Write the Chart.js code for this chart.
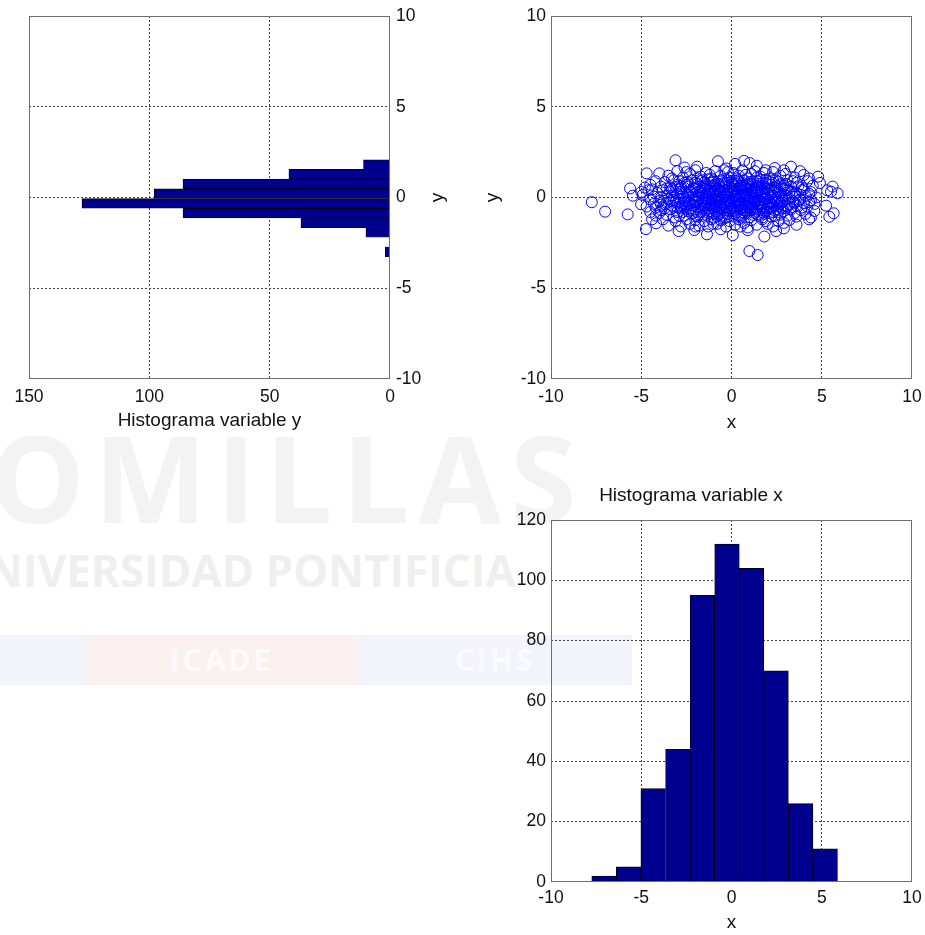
<!DOCTYPE html>
<html><head><meta charset="utf-8">
<script src="https://cdn.jsdelivr.net/npm/chart.js@4.4.1/dist/chart.umd.min.js"></script>
<style>
html,body{margin:0;padding:0;background:#fff;width:925px;height:935px;overflow:hidden;position:relative;}
canvas{position:absolute;}
#wm{position:absolute;left:0;top:0;width:925px;height:935px;overflow:hidden;}
#wm div{position:absolute;white-space:nowrap;font-family:'Open Sans',sans-serif;font-weight:bold;}
</style></head><body>
<div id="wm">
  <div style="left:-96px;top:395px;font-size:120px;letter-spacing:9px;color:#f3f3f3;">COMILLAS</div>
  <div style="left:-46px;top:540px;font-size:44px;letter-spacing:0px;color:#efefef;">UNIVERSIDAD PONTIFICIA</div>
  <div style="left:0;top:635px;width:85px;height:50px;background:#f1f4fa;"></div>
  <div style="left:85px;top:635px;width:273px;height:50px;background:#fbf0f0;color:#fdfafa;font-size:30px;line-height:50px;text-align:center;letter-spacing:3px;">ICADE</div>
  <div style="left:358px;top:635px;width:274px;height:50px;background:#f1f4fa;color:#fafbfe;font-size:30px;line-height:50px;text-align:center;letter-spacing:3px;">CIHS</div>
</div>
<canvas id="c1" width="470" height="440" style="left:0px;top:0px"></canvas>
<canvas id="c2" width="455" height="440" style="left:470px;top:0px"></canvas>
<canvas id="c3" width="455" height="475" style="left:470px;top:460px"></canvas>
<script>
// ---- data ----
const yHistCenters = [-2.993, -2.459, -1.925, -1.391, -0.857, -0.323, 0.211, 0.745, 1.279, 1.813];
const yHistCounts  = [2, 0, 10, 37, 86, 128, 98, 86, 42, 11];
const xHistCenters = [-7.06, -5.70, -4.34, -2.97, -1.61, -0.25, 1.11, 2.47, 3.83, 5.19];
const xHistCounts  = [2, 5, 31, 44, 95, 112, 104, 70, 26, 11];
const countTicksTop = [0, 50, 100, 150];
const valueTicks = [-10, -5, 0, 5, 10];
const countTicksBottom = [0, 20, 40, 60, 80, 100, 120];
const scatterPoints = [
[-3.1,2.05],[-0.75,2.0],[0.7,2.02],[-1.9,1.7],[3.3,1.7],[0.2,1.85],[1.4,1.75],[-2.6,1.65],[1.0,1.9],[-0.3,1.6],[2.4,1.62],
[-4.7,1.33],[-4.0,1.33],[-3.5,1.2],[-3.0,1.45],[-2.7,1.1],[-2.3,1.3],[-2.0,1.5],[-1.7,1.15],[-1.4,1.35],[-1.1,1.05],[-0.9,1.45],[-0.6,1.2],[-0.4,1.5],[-0.1,1.1],[0.1,1.35],[0.4,1.2],[0.6,1.5],[0.9,1.05],[1.1,1.3],[1.3,1.45],[1.6,1.15],[1.8,1.35],[2.1,1.05],[2.3,1.4],[2.7,1.2],[3.0,1.3],[3.5,1.1],[4.0,1.24],[4.8,1.15],[-3.3,1.05],[-1.2,1.25],[-0.2,1.4],[0.8,1.25],[1.9,1.5],[2.9,1.5],[-2.5,1.4],[0.3,1.05],[1.4,1.1],[-1.9,1.05],[3.8,1.45],[4.3,1.05],
[-5.62,0.5],[-4.5,0.7],[-4.2,0.9],[-3.9,0.6],[-3.7,0.85],[-3.4,0.55],[-3.2,0.95],[-3.0,0.7],[-2.8,0.5],[-2.6,0.8],[-2.4,0.6],[-2.2,0.95],[-2.1,0.55],[-1.9,0.75],[-1.7,0.9],[-1.6,0.55],[-1.4,0.7],[-1.3,1.0],[-1.1,0.6],[-1.0,0.85],[-0.8,0.5],[-0.7,0.75],[-0.5,0.95],[-0.4,0.6],[-0.3,0.8],[-0.1,0.55],[0.0,0.9],[0.1,0.7],[0.3,0.5],[0.4,0.85],[0.5,0.65],[0.7,0.95],[0.8,0.55],[0.9,0.75],[1.1,0.6],[1.2,0.9],[1.3,0.5],[1.5,0.75],[1.6,0.95],[1.7,0.6],[1.9,0.8],[2.0,0.5],[2.2,0.7],[2.3,0.95],[2.5,0.6],[2.6,0.85],[2.8,0.5],[3.0,0.75],[3.1,0.95],[3.3,0.6],[3.6,0.8],[3.9,0.55],[4.2,0.9],[4.5,0.65],[5.6,0.6],[-4.8,0.55],[-3.6,0.5],[-2.9,0.9],[-1.8,0.6],[-1.5,0.85],[-0.9,0.7],[-0.6,0.55],[-0.2,0.95],[0.2,0.6],[0.6,0.8],[1.0,0.85],[1.4,0.65],[1.8,0.5],[2.1,0.85],[2.4,0.55],[2.9,0.65],[3.4,0.9],[-2.5,0.7],[-1.2,0.5],[0.05,0.75],[0.75,0.6],[1.55,0.55],[-0.45,0.72],[-3.1,0.58],[2.7,0.72],[-1.0,0.95],[0.35,0.95],[1.9,0.98],[-2.0,0.82],[3.7,0.62],[4.9,0.8],
[-5.47,0.1],[-5.0,0.3],[-4.92,0.14],[-4.6,0.4],[-4.3,0.05],[-4.1,0.25],[-3.8,0.4],[-3.6,0.1],[-3.4,0.3],[-3.2,0.0],[-3.0,0.2],[-2.9,0.45],[-2.7,0.1],[-2.5,0.3],[-2.4,0.0],[-2.2,0.4],[-2.1,0.15],[-1.9,0.3],[-1.8,0.0],[-1.6,0.2],[-1.5,0.45],[-1.3,0.05],[-1.2,0.3],[-1.0,0.15],[-0.9,0.4],[-0.8,0.0],[-0.6,0.25],[-0.5,0.45],[-0.4,0.1],[-0.2,0.3],[-0.1,0.0],[0.0,0.2],[0.1,0.45],[0.2,0.05],[0.3,0.3],[0.5,0.15],[0.6,0.4],[0.7,0.0],[0.8,0.25],[1.0,0.1],[1.1,0.35],[1.2,0.0],[1.3,0.2],[1.5,0.45],[1.6,0.1],[1.7,0.3],[1.9,0.0],[2.0,0.2],[2.1,0.4],[2.3,0.1],[2.4,0.3],[2.6,0.0],[2.7,0.25],[2.9,0.45],[3.0,0.1],[3.2,0.3],[3.4,0.05],[3.6,0.25],[3.9,0.4],[4.1,0.1],[4.4,0.3],[4.7,0.0],[5.51,0.32],[5.88,0.23],[5.3,0.4],[-3.9,0.0],[-2.8,0.3],[-2.3,0.25],[-1.7,0.4],[-1.4,0.15],[-1.1,0.0],[-0.7,0.35],[-0.3,0.15],[0.15,0.35],[0.45,0.0],[0.9,0.4],[1.4,0.3],[1.8,0.15],[2.2,0.0],[2.5,0.45],[3.1,0.4],[3.5,0.2],[4.0,0.45],[4.3,0.2],[-4.4,0.45],[-3.3,0.45],[-2.0,0.05],[-1.0,0.3],[-0.15,0.45],[0.55,0.3],[1.05,0.45],[1.65,0.4],[2.8,0.05],[-0.55,0.05],[0.35,0.1],[-1.25,0.42],[0.85,0.12],[3.8,0.15],
[-7.74,-0.26],[-5.01,-0.37],[-4.7,-0.5],[-4.5,-0.1],[-4.3,-0.35],[-4.0,-0.2],[-3.8,-0.5],[-3.6,-0.3],[-3.5,-0.1],[-3.3,-0.45],[-3.1,-0.25],[-3.0,-0.55],[-2.9,-0.1],[-2.7,-0.35],[-2.6,-0.15],[-2.5,-0.5],[-2.3,-0.3],[-2.2,-0.1],[-2.1,-0.45],[-2.0,-0.25],[-1.9,-0.55],[-1.8,-0.1],[-1.7,-0.35],[-1.6,-0.2],[-1.5,-0.5],[-1.4,-0.3],[-1.3,-0.1],[-1.2,-0.45],[-1.1,-0.2],[-1.0,-0.55],[-0.9,-0.35],[-0.8,-0.15],[-0.7,-0.45],[-0.6,-0.25],[-0.5,-0.1],[-0.4,-0.5],[-0.3,-0.3],[-0.2,-0.15],[-0.1,-0.4],[0.0,-0.2],[0.1,-0.55],[0.2,-0.3],[0.3,-0.1],[0.4,-0.45],[0.5,-0.25],[0.6,-0.55],[0.7,-0.15],[0.8,-0.35],[0.9,-0.5],[1.0,-0.2],[1.1,-0.4],[1.2,-0.1],[1.3,-0.3],[1.4,-0.55],[1.5,-0.15],[1.6,-0.4],[1.7,-0.25],[1.8,-0.5],[1.9,-0.1],[2.0,-0.35],[2.1,-0.2],[2.2,-0.55],[2.3,-0.4],[2.4,-0.1],[2.5,-0.3],[2.6,-0.5],[2.8,-0.2],[2.9,-0.45],[3.0,-0.1],[3.2,-0.35],[3.3,-0.55],[3.4,-0.2],[3.6,-0.45],[3.8,-0.1],[4.0,-0.3],[4.2,-0.5],[4.4,-0.15],[4.6,-0.35],[5.24,-0.45],[-3.9,-0.4],[-3.4,-0.2],[-2.8,-0.5],[-2.4,-0.2],[-1.95,-0.3],[-1.55,-0.1],[-1.15,-0.35],[-0.85,-0.5],[-0.55,-0.4],[-0.25,-0.55],[0.05,-0.1],[0.25,-0.45],[0.55,-0.35],[0.85,-0.1],[1.15,-0.5],[1.45,-0.35],[1.75,-0.1],[2.05,-0.5],[2.35,-0.25],[2.7,-0.35],[3.1,-0.5],[3.5,-0.3],[3.9,-0.55],[-2.05,-0.15],[-1.45,-0.45],[-0.65,-0.1],[-0.05,-0.3],[0.35,-0.2],[0.75,-0.45],[1.25,-0.2],[1.65,-0.55],[2.15,-0.3],[2.55,-0.15],[-3.2,-0.15],[-2.55,-0.35],[-1.25,-0.25],[-0.35,-0.2],[0.45,-0.35],[1.05,-0.3],[1.85,-0.25],[3.7,-0.2],[-4.2,-0.55],[4.3,-0.25],[-0.95,-0.1],[0.15,-0.25],[0.95,-0.15],
[-7.0,-0.78],[-5.75,-0.93],[-4.5,-0.8],[-4.2,-1.0],[-3.9,-0.7],[-3.6,-0.95],[-3.4,-0.65],[-3.2,-1.1],[-3.0,-0.8],[-2.8,-0.6],[-2.6,-1.0],[-2.4,-0.75],[-2.2,-0.9],[-2.0,-0.65],[-1.9,-1.05],[-1.7,-0.8],[-1.5,-0.6],[-1.4,-0.95],[-1.2,-0.75],[-1.0,-1.1],[-0.9,-0.65],[-0.7,-0.85],[-0.5,-1.0],[-0.4,-0.7],[-0.2,-0.9],[0.0,-0.6],[0.1,-1.05],[0.3,-0.8],[0.5,-0.65],[0.6,-0.95],[0.8,-0.75],[1.0,-1.1],[1.1,-0.6],[1.3,-0.85],[1.5,-1.0],[1.6,-0.7],[1.8,-0.9],[2.0,-0.6],[2.2,-1.05],[2.3,-0.8],[2.5,-0.65],[2.7,-0.95],[2.9,-0.75],[3.1,-1.0],[3.3,-0.65],[3.5,-0.85],[3.85,-0.69],[4.1,-0.9],[4.59,-0.74],[5.42,-1.06],[5.66,-0.87],[-3.7,-0.6],[-2.9,-1.0],[-2.3,-0.6],[-1.6,-1.0],[-1.1,-0.8],[-0.6,-0.6],[-0.1,-0.75],[0.4,-1.0],[0.9,-0.85],[1.4,-0.65],[1.9,-0.75],[2.4,-1.0],[2.8,-0.6],[3.6,-1.05],[-4.0,-0.85],[-2.7,-0.8],[-1.8,-0.95],[-0.8,-1.05],[0.2,-0.9],[0.7,-0.7],[1.2,-0.95],[2.1,-0.85],[3.0,-0.6],[-1.3,-0.6],[-0.3,-1.1],[1.7,-1.1],[-2.1,-0.85],[0.55,-1.1],[2.6,-0.8],[-0.95,-0.9],[1.05,-0.7],[4.4,-1.1],
[-4.18,-1.42],[-3.8,-1.2],[-3.5,-1.55],[-3.1,-1.3],[-2.8,-1.6],[-2.5,-1.2],[-2.3,-1.45],[-2.0,-1.25],[-1.8,-1.55],[-1.5,-1.3],[-1.3,-1.6],[-1.1,-1.2],[-0.8,-1.45],[-0.6,-1.25],[-0.3,-1.6],[-0.1,-1.3],[0.2,-1.5],[0.4,-1.2],[0.7,-1.4],[0.9,-1.65],[1.1,-1.25],[1.4,-1.5],[1.7,-1.2],[2.0,-1.45],[2.3,-1.6],[2.6,-1.3],[3.2,-1.24],[3.6,-1.5],[4.3,-1.2],[-4.4,-1.2],[-1.0,-1.45],[0.5,-1.6],[1.9,-1.3],[-2.0,-1.6],[2.9,-1.4],[-0.4,-1.15],
[-4.74,-1.74],[-2.93,-1.85],[-2.06,-1.79],[-1.36,-2.03],[0.07,-2.07],[1.82,-2.15],[2.47,-1.85],[-0.6,-1.75],[0.9,-1.8],[2.9,-1.7],
[0.99,-2.95],[1.45,-3.17],
[-1.85,0.12],[-1.65,-0.62],[-1.45,0.58],[-1.35,-0.05],[-1.15,0.82],[-1.05,-0.42],[-0.95,0.22],[-0.85,-0.78],[-0.75,0.48],[-0.65,-0.28],[-0.55,0.88],[-0.45,-0.62],[-0.35,0.05],[-0.25,-0.92],[-0.15,0.62],[-0.05,-0.45],[0.05,0.32],[0.15,-0.72],[0.25,0.78],[0.35,-0.12],[0.45,0.52],[0.55,-0.58],[0.65,0.18],[0.75,-0.88],[0.85,0.68],[0.95,-0.32],[1.05,0.08],[1.15,-0.68],[1.25,0.42],[1.35,-0.18],[1.45,0.88],[1.55,-0.48],[1.65,0.22],[1.75,-0.82],[1.85,0.58],[1.95,-0.05],[2.05,0.38],[2.15,-0.62],
[-2.15,-0.42],[-2.05,0.48],[-1.95,-0.78],[-1.75,0.32],[-1.55,-0.28],[-1.25,0.18],[-0.95,-0.62],[-0.7,0.08],[-0.4,0.38],[-0.1,-0.18],[0.2,0.12],[0.5,-0.38],[0.8,0.45],[1.1,-0.05],[1.4,0.55],[1.7,-0.35],[2.0,0.72],
[-1.6,0.95],[-1.3,-0.85],[-1.0,0.62],[-0.7,-0.95],[-0.4,0.82],[-0.1,-0.65],[0.2,0.92],[0.5,-0.82],[0.8,0.02],[1.1,0.72],[1.4,-0.92],[1.7,0.78],[-1.9,-0.18],[-0.6,0.38],[0.35,-0.55],[1.3,0.32],[-0.85,0.02],[0.62,0.58],[-0.28,-0.38],[0.95,-0.58],
[-2.4,0.15],[-2.6,-0.55],[-2.8,0.62],[-3.0,-0.32],[2.4,-0.72],[2.6,0.35],[2.8,-0.28],[3.0,0.55],[-2.45,0.85],[2.45,0.95],[-3.3,0.1],[3.2,-0.05],[-2.65,-0.05],[2.75,0.12]
];

// ---- styling helpers ----
const FONT = "'Liberation Sans', Arial, sans-serif";
const tickFont = {family: FONT, size: 17.5};
const titleFont = {family: FONT, size: 19, lineHeight: 1};
const TXT = '#111';
const gridColor = ctx => {
  const s = ctx.scale; const v = ctx.tick ? ctx.tick.value : null;
  return (v === s.min || v === s.max) ? 'rgba(0,0,0,0)' : '#444';
};
const gridOpts = {color: gridColor, lineWidth: 1, drawTicks: false, offset: false};
const borderOpts = {display: false, dash: [2, 2]};
const framePlugin = {
  id: 'frame',
  afterDatasetsDraw(chart) {
    const {ctx, chartArea: a} = chart;
    ctx.save();
    ctx.strokeStyle = '#6e6e6e';
    ctx.lineWidth = 1;
    ctx.strokeRect(a.left + 0.5, a.top + 0.5, a.right - a.left - 1, a.bottom - a.top - 1);
    ctx.restore();
  }
};
const rightTitlePlugin = {
  id: 'rightTitle',
  afterDraw(chart) {
    const {ctx, chartArea: a} = chart;
    ctx.save();
    ctx.translate(a.right + 48, (a.top + a.bottom) / 2);
    ctx.rotate(-Math.PI / 2);
    ctx.font = `19px ${FONT}`;
    ctx.fillStyle = TXT;
    ctx.textAlign = 'center';
    ctx.textBaseline = 'middle';
    ctx.fillText('y', 0, 0);
    ctx.restore();
  }
};
const fixedTicks = arr => scale => { scale.ticks = arr.map(v => ({value: v})); };
const fitX = h => s => { s.height = h; s.paddingLeft = 0; s.paddingRight = 0; };
const fitY = w => s => { s.width = w; s.paddingTop = 0; s.paddingBottom = 0; };
const base = {responsive: false, animation: false, events: [], plugins: {legend: {display: false}, tooltip: {enabled: false}}};

// ---- Chart 1: histogram of y (horizontal, reversed counts) ----
new Chart(document.getElementById('c1'), {
  type: 'bar',
  data: {datasets: [{
    data: yHistCenters.map((c, i) => ({x: yHistCounts[i], y: c})),
    backgroundColor: '#00008f', borderColor: '#000', borderWidth: 0.8, borderSkipped: false,
    barPercentage: 1, categoryPercentage: 1
  }]},
  options: {...base, indexAxis: 'y',
    layout: {padding: {left: 29, top: 16, right: 0, bottom: 0}},
    scales: {
      x: {type: 'linear', reverse: true, min: 0, max: 150, afterBuildTicks: fixedTicks(countTicksTop),
          ticks: {font: tickFont, color: TXT, padding: 8, maxRotation: 0},
          grid: gridOpts, border: borderOpts,
          title: {display: true, text: 'Histograma variable y', font: titleFont, color: TXT, padding: {top: 0, bottom: 9.5}},
          afterFit: fitX(61)},
      y: {type: 'linear', position: 'right', min: -10, max: 10, offset: false, afterBuildTicks: fixedTicks(valueTicks),
          ticks: {font: tickFont, color: TXT, padding: 6},
          grid: gridOpts, border: borderOpts,
          afterFit: fitY(80)}
    }
  },
  plugins: [framePlugin, rightTitlePlugin]
});

// ---- Chart 2: scatter ----
new Chart(document.getElementById('c2'), {
  type: 'scatter',
  data: {datasets: [{
    data: scatterPoints.map(p => ({x: p[0], y: p[1]})),
    pointStyle: 'circle', pointRadius: 5.5, borderWidth: 1,
    pointBorderColor: 'rgb(0,0,255)', pointBackgroundColor: 'rgba(0,0,0,0)', showLine: false
  }]},
  options: {...base,
    layout: {padding: {left: 0, top: 16, right: 13, bottom: 0}},
    scales: {
      x: {type: 'linear', min: -10, max: 10, afterBuildTicks: fixedTicks(valueTicks),
          ticks: {font: tickFont, color: TXT, padding: 8, maxRotation: 0},
          grid: gridOpts, border: borderOpts,
          title: {display: true, text: 'x', font: titleFont, color: TXT, padding: {top: 0, bottom: 7.5}},
          afterFit: fitX(61)},
      y: {type: 'linear', min: -10, max: 10, afterBuildTicks: fixedTicks(valueTicks),
          ticks: {font: tickFont, color: TXT, padding: 5},
          grid: gridOpts, border: borderOpts,
          title: {display: true, text: 'y', font: titleFont, color: TXT, padding: {top: 13.5, bottom: 0}},
          afterFit: fitY(81)}
    }
  },
  plugins: [framePlugin]
});

// ---- Chart 3: histogram of x ----
new Chart(document.getElementById('c3'), {
  type: 'bar',
  data: {datasets: [{
    data: xHistCenters.map((c, i) => ({x: c, y: xHistCounts[i]})),
    backgroundColor: '#00008f', borderColor: '#000', borderWidth: 0.8, borderSkipped: false,
    barPercentage: 1, categoryPercentage: 1
  }]},
  options: {...base,
    layout: {padding: {left: 0, top: 0, right: 13, bottom: 0}},
    plugins: {...base.plugins,
      title: {display: true, text: 'Histograma variable x', font: {family: FONT, size: 19, weight: 'normal', lineHeight: 1}, color: TXT, padding: {top: 26.5, bottom: 14.5}}},
    scales: {
      x: {type: 'linear', min: -10, max: 10, offset: false, afterBuildTicks: fixedTicks(valueTicks),
          ticks: {font: tickFont, color: TXT, padding: 6, maxRotation: 0},
          grid: gridOpts, border: borderOpts,
          title: {display: true, text: 'x', font: titleFont, color: TXT, padding: {top: 0, bottom: 2.5}},
          afterFit: fitX(53)},
      y: {type: 'linear', min: 0, max: 120, afterBuildTicks: fixedTicks(countTicksBottom),
          ticks: {font: tickFont, color: TXT, padding: 5},
          grid: gridOpts, border: borderOpts,
          afterFit: fitY(81)}
    }
  },
  plugins: [framePlugin]
});
</script>
</body></html>
